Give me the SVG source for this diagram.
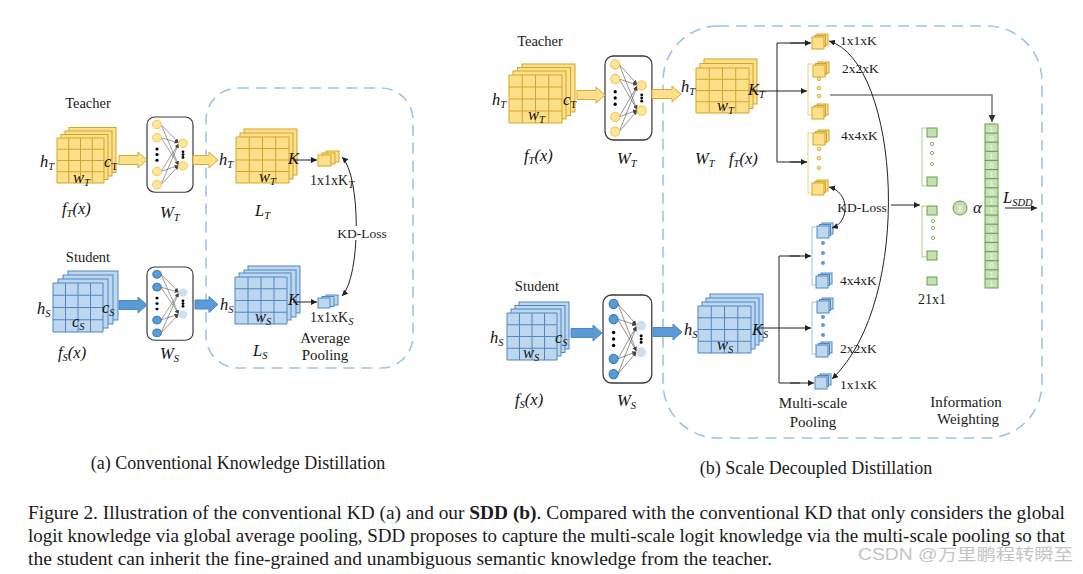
<svg xmlns="http://www.w3.org/2000/svg" xmlns:xlink="http://www.w3.org/1999/xlink" width="1083" height="574" viewBox="0 0 1083 574">
<style>
.t{font-family:"Liberation Serif","Times New Roman",serif;fill:#1a1a1a}
.m{font-family:"Liberation Serif","Times New Roman",serif;font-style:italic;fill:#111;font-size:16.5px}
.s{font-size:10.5px}
.yl{fill:#ffe08a;stroke:#cfa52a;stroke-width:1}
.bl{fill:#bdd7ee;stroke:#4f86c4;stroke-width:1}
.gr{fill:#c5e0b4;stroke:#6a9e45;stroke-width:1}
.dash{fill:none;stroke:#9dc3e6;stroke-width:1.6;stroke-dasharray:11 7}
.ln{fill:none;stroke:#222;stroke-width:1}
.nn{fill:#fff;stroke:#3a3a3a;stroke-width:1.2}
.nl{stroke:#555;stroke-width:0.6}
.ya{fill:#ffe08a;stroke:#d4a93a;stroke-width:1}
.ba{fill:#5b9bd5;stroke:#4a86c8;stroke-width:1}
.yb{fill:none;stroke:#f0cf6e;stroke-width:1}
.bb{fill:none;stroke:#9dc3e6;stroke-width:1}
.gb{fill:none;stroke:#a9d18e;stroke-width:1}
.dig{font-family:"Liberation Sans",sans-serif;font-size:8px;fill:#f4faf0;text-anchor:middle}
</style>
<defs>
<marker id="ah" viewBox="0 0 10 10" refX="10" refY="5" markerWidth="6" markerHeight="6" markerUnits="userSpaceOnUse" orient="auto-start-reverse"><path d="M0,0 L10,5 L0,10 z" fill="#222"/></marker>
<marker id="ahs" viewBox="0 0 10 10" refX="10" refY="5" markerWidth="4" markerHeight="4" markerUnits="userSpaceOnUse" orient="auto"><path d="M0,0 L10,5 L0,10 z" fill="#444"/></marker>
<marker id="ahg" viewBox="0 0 10 10" refX="10" refY="5" markerWidth="7" markerHeight="7" markerUnits="userSpaceOnUse" orient="auto"><path d="M0,0 L10,5 L0,10 z" fill="#333"/></marker>
<symbol id="yg" viewBox="0 0 4 4" preserveAspectRatio="none" overflow="visible"><rect width="4" height="4" fill="#ffe08a" stroke="#cfa52a" vector-effect="non-scaling-stroke"/><path d="M1 0V4M2 0V4M3 0V4M0 1H4M0 2H4M0 3H4" fill="none" stroke="#cfa52a" vector-effect="non-scaling-stroke"/></symbol>
<symbol id="bg" viewBox="0 0 4 4" preserveAspectRatio="none" overflow="visible"><rect width="4" height="4" fill="#bdd7ee" stroke="#4f86c4" vector-effect="non-scaling-stroke"/><path d="M1 0V4M2 0V4M3 0V4M0 1H4M0 2H4M0 3H4" fill="none" stroke="#4f86c4" vector-effect="non-scaling-stroke"/></symbol>
<g id="yc" class="yl"><rect x="5" y="0" width="11" height="11"/><rect x="2.5" y="1.5" width="11" height="11"/><rect x="0" y="3" width="12" height="12"/></g>
<g id="bc" class="bl"><rect x="5" y="0" width="11" height="11"/><rect x="2.5" y="1.5" width="11" height="11"/><rect x="0" y="3" width="12" height="12"/></g>
<g id="nnT">
<rect x="0" y="0" width="46" height="80" rx="8" class="nn"/>
<g class="nl" marker-end="url(#ahs)">
<line x1="14" y1="8" x2="31.5" y2="27"/><line x1="14" y1="8" x2="31.5" y2="51"/>
<line x1="14" y1="22" x2="31.5" y2="27.5"/><line x1="14" y1="22" x2="31.5" y2="51"/>
<line x1="14" y1="58" x2="31.5" y2="28.5"/><line x1="14" y1="58" x2="31.5" y2="51.5"/>
<line x1="14" y1="72" x2="31.5" y2="29"/><line x1="14" y1="72" x2="31.5" y2="52"/>
</g>
<g fill="#ffe699" stroke="#f2c55c"><circle cx="10" cy="8" r="4.5"/><circle cx="10" cy="22" r="4.5"/><circle cx="10" cy="58" r="4.5"/><circle cx="10" cy="72" r="4.5"/><circle cx="36" cy="28" r="4.5"/><circle cx="36" cy="52" r="4.5"/></g>
<g fill="#000"><circle cx="10" cy="34" r="1.6"/><circle cx="10" cy="40" r="1.6"/><circle cx="10" cy="46" r="1.6"/><circle cx="36" cy="37" r="1.4"/><circle cx="36" cy="40" r="1.4"/><circle cx="36" cy="43" r="1.4"/></g>
</g>
<g id="nnS">
<rect x="0" y="0" width="46" height="80" rx="8" class="nn"/>
<g class="nl" marker-end="url(#ahs)">
<line x1="14" y1="8" x2="31.5" y2="27"/><line x1="14" y1="8" x2="31.5" y2="51"/>
<line x1="14" y1="22" x2="31.5" y2="27.5"/><line x1="14" y1="22" x2="31.5" y2="51"/>
<line x1="14" y1="58" x2="31.5" y2="28.5"/><line x1="14" y1="58" x2="31.5" y2="51.5"/>
<line x1="14" y1="72" x2="31.5" y2="29"/><line x1="14" y1="72" x2="31.5" y2="52"/>
</g>
<g fill="#5b9bd5" stroke="#2e75b6"><circle cx="10" cy="8" r="4.2"/><circle cx="10" cy="22" r="4.2"/><circle cx="10" cy="58" r="4.2"/><circle cx="10" cy="72" r="4.2"/></g>
<g fill="#cde0f2"><circle cx="36" cy="28" r="4.5"/><circle cx="36" cy="52" r="4.5"/></g>
<g fill="#000"><circle cx="10" cy="34" r="1.6"/><circle cx="10" cy="40" r="1.6"/><circle cx="10" cy="46" r="1.6"/><circle cx="36" cy="37" r="1.4"/><circle cx="36" cy="40" r="1.4"/><circle cx="36" cy="43" r="1.4"/></g>
</g>
</defs>
<rect width="1083" height="574" fill="#fff"/>

<!-- dashed regions -->
<rect class="dash" x="206" y="88" width="207" height="280" rx="32"/>
<rect class="dash" x="663" y="26" width="379" height="412" rx="55"/>

<!-- ===== (a) ===== -->
<g id="a-teacher-feature">
<text class="t" x="88" y="108" font-size="14.5" text-anchor="middle">Teacher</text>
<rect class="yl" x="69" y="127.5" width="47" height="45"/><rect class="yl" x="65" y="131" width="47" height="45"/><rect class="yl" x="61" y="134.5" width="47" height="45"/>
<use href="#yg" x="57" y="138" width="47" height="45"/>
<text class="m" x="40" y="167">h<tspan class="s" dy="3">T</tspan></text>
<text class="m" x="104" y="167">c<tspan class="s" dy="3" font-style="normal">T</tspan></text>
<text class="m" x="73" y="183">w<tspan class="s" dy="3">T</tspan></text>
<text class="m" x="62" y="214">f<tspan class="s" dy="3">T</tspan><tspan dy="-3">(x)</tspan></text>
</g>
<g id="a-teacher-net">
<use href="#nnT" transform="translate(147,117) scale(1,0.94)"/>
<text class="m" x="160" y="218">W<tspan class="s" dy="3">T</tspan></text>
</g>
<g id="a-teacher-logit">
<rect class="yl" x="244" y="129" width="53" height="46"/><rect class="yl" x="240" y="133" width="53" height="46"/>
<use href="#yg" x="236" y="137" width="53" height="46"/>
<text class="m" x="219" y="165">h<tspan class="s" dy="3">T</tspan></text>
<text class="m" x="288" y="164">K</text>
<text class="m" x="259" y="182">w<tspan class="s" dy="3">T</tspan></text>
<text class="m" x="255" y="216">L<tspan class="s" dy="3">T</tspan></text>
</g>
<g id="a-teacher-pool">
<g class="yl"><rect x="326" y="151" width="13" height="11"/><rect x="322" y="153" width="13" height="11"/><rect x="318" y="155" width="13" height="11"/></g>
<text class="t" x="310" y="185" font-size="14">1x1xK<tspan class="s" dy="3" font-style="italic">T</tspan></text>
</g>
<g id="a-student-feature">
<text class="t" x="88" y="262" font-size="14.5" text-anchor="middle">Student</text>
<rect class="bl" x="68" y="271" width="50" height="49"/><rect class="bl" x="63" y="275" width="50" height="49"/><rect class="bl" x="58" y="279" width="50" height="49"/>
<use href="#bg" x="53" y="283" width="50" height="49"/>
<text class="m" x="37" y="314">h<tspan class="s" dy="3">S</tspan></text>
<text class="m" x="102" y="313">c<tspan class="s" dy="3">S</tspan></text>
<text class="m" x="72" y="327">c<tspan class="s" dy="3">S</tspan></text>
<text class="m" x="58" y="358">f<tspan class="s" dy="3">S</tspan><tspan dy="-3">(x)</tspan></text>
</g>
<g id="a-student-net">
<use href="#nnS" transform="translate(147,267) scale(1,0.915)"/>
<text class="m" x="160" y="359">W<tspan class="s" dy="3">S</tspan></text>
</g>
<g id="a-student-logit">
<rect class="bl" x="248" y="266" width="52" height="47"/><rect class="bl" x="244" y="270" width="52" height="47"/><rect class="bl" x="239" y="273" width="52" height="47"/>
<use href="#bg" x="235" y="277" width="52" height="47"/>
<text class="m" x="220" y="310">h<tspan class="s" dy="3">S</tspan></text>
<text class="m" x="288" y="305">K</text>
<text class="m" x="255" y="322">w<tspan class="s" dy="3">S</tspan></text>
<text class="m" x="253" y="356">L<tspan class="s" dy="3">S</tspan></text>
</g>
<g id="a-student-pool">
<g class="bl"><rect x="326" y="295" width="12" height="10"/><rect x="322" y="296.5" width="12" height="10"/><rect x="318" y="298" width="12" height="10"/></g>
<text class="t" x="310" y="322" font-size="14">1x1xK<tspan class="s" dy="3" font-style="italic">S</tspan></text>
<text class="t" x="325" y="343" font-size="15" text-anchor="middle">Average</text>
<text class="t" x="325" y="360" font-size="15" text-anchor="middle">Pooling</text>
</g>

<!-- ===== (b) ===== -->
<g id="b-teacher-feature">
<text class="t" x="540" y="46" font-size="14.5" text-anchor="middle">Teacher</text>
<rect class="yl" x="522" y="64" width="53" height="48"/><rect class="yl" x="517.5" y="67.5" width="53" height="48"/><rect class="yl" x="513" y="71" width="53" height="48"/>
<use href="#yg" x="509" y="75" width="53" height="48"/>
<text class="m" x="492" y="105">h<tspan class="s" dy="3">T</tspan></text>
<text class="m" x="563" y="105">c<tspan class="s" dy="3" font-style="normal">T</tspan></text>
<text class="m" x="528" y="120">w<tspan class="s" dy="3">T</tspan></text>
<text class="m" x="524" y="161">f<tspan class="s" dy="3">T</tspan><tspan dy="-3">(x)</tspan></text>
</g>
<g id="b-teacher-net">
<use href="#nnT" transform="translate(605,56) scale(1.02,1.05)"/>
<text class="m" x="617" y="164">W<tspan class="s" dy="3">T</tspan></text>
</g>
<g id="b-teacher-logit">
<rect class="yl" x="704" y="59" width="53" height="45"/><rect class="yl" x="700" y="63.5" width="53" height="45"/>
<use href="#yg" x="696" y="68" width="53" height="45"/>
<text class="m" x="681" y="92">h<tspan class="s" dy="3">T</tspan></text>
<text class="m" x="748" y="95">K<tspan class="s" dy="3">T</tspan></text>
<text class="m" x="717" y="111">w<tspan class="s" dy="3">T</tspan></text>
<text class="m" x="695" y="164">W<tspan class="s" dy="3">T</tspan></text>
<text class="m" x="729" y="164">f<tspan class="s" dy="3">T</tspan><tspan dy="-3">(x)</tspan></text>
</g>
<g id="b-teacher-pool">
<use href="#yc" x="812" y="34"/>
<text class="t" x="840" y="45" font-size="13.5">1x1xK</text>
<path class="yb" d="M812 64H808V115H812"/>
<use href="#yc" x="813" y="62"/><use href="#yc" x="812" y="104"/>
<g fill="#ffe08a" stroke="#cfa52a" stroke-width="0.8"><circle cx="819" cy="79" r="1.8"/><circle cx="819" cy="88" r="1.8"/><circle cx="819" cy="96" r="1.8"/></g>
<text class="t" x="842" y="73" font-size="13.5">2x2xK</text>
<path class="yb" d="M812 133H808V193H812"/>
<use href="#yc" x="813" y="130"/><use href="#yc" x="812" y="180"/>
<g fill="#ffe08a" stroke="#cfa52a" stroke-width="0.8"><circle cx="819" cy="149" r="1.8"/><circle cx="819" cy="158" r="1.8"/><circle cx="819" cy="168" r="1.8"/></g>
<text class="t" x="841" y="140" font-size="13.5">4x4xK</text>
</g>
<g id="b-student-feature">
<text class="t" x="537" y="291" font-size="14.5" text-anchor="middle">Student</text>
<rect class="bl" x="519" y="302" width="50" height="47"/><rect class="bl" x="515" y="305.5" width="50" height="47"/><rect class="bl" x="511" y="309" width="50" height="47"/>
<use href="#bg" x="507" y="313" width="50" height="47"/>
<text class="m" x="490" y="343">h<tspan class="s" dy="3">S</tspan></text>
<text class="m" x="555" y="343">c<tspan class="s" dy="3">S</tspan></text>
<text class="m" x="523" y="358">w<tspan class="s" dy="3">S</tspan></text>
<text class="m" x="515" y="405">f<tspan class="s" dy="3">S</tspan><tspan dy="-3">(x)</tspan></text>
</g>
<g id="b-student-net">
<use href="#nnS" transform="translate(603,295) scale(1.06,1.1)"/>
<text class="m" x="617" y="406">W<tspan class="s" dy="3">S</tspan></text>
</g>
<g id="b-student-logit">
<rect class="bl" x="710" y="294" width="53" height="47"/><rect class="bl" x="706" y="298" width="53" height="47"/><rect class="bl" x="702" y="302" width="53" height="47"/>
<use href="#bg" x="698" y="306" width="53" height="47"/>
<text class="m" x="684" y="335">h<tspan class="s" dy="3">S</tspan></text>
<text class="m" x="752" y="335">K<tspan class="s" dy="3">S</tspan></text>
<text class="m" x="717" y="350">w<tspan class="s" dy="3">S</tspan></text>
</g>
<g id="b-student-pool">
<path class="bb" d="M816 227H812V285H816"/>
<use href="#bc" x="817" y="223"/><use href="#bc" x="816" y="273"/>
<g fill="#5b9bd5"><circle cx="823" cy="243" r="2"/><circle cx="823" cy="253" r="2"/><circle cx="823" cy="263" r="2"/></g>
<text class="t" x="840" y="285" font-size="13.5">4x4xK</text>
<path class="bb" d="M816 302H812V354H816"/>
<use href="#bc" x="817" y="298"/><use href="#bc" x="816" y="342"/>
<g fill="#5b9bd5"><circle cx="823" cy="317" r="2"/><circle cx="823" cy="325" r="2"/><circle cx="823" cy="335" r="2"/></g>
<text class="t" x="840" y="353" font-size="13.5">2x2xK</text>
<use href="#bc" x="815" y="374"/>
<text class="t" x="840" y="389" font-size="13.5">1x1xK</text>
<text class="t" x="813" y="408" font-size="15" text-anchor="middle">Multi-scale</text>
<text class="t" x="813" y="427" font-size="15" text-anchor="middle">Pooling</text>
</g>
<g id="b-weighting">
<path class="gb" d="M926 128H922V186H926"/>
<rect class="gr" x="927" y="128" width="10" height="9"/><rect class="gr" x="927" y="177" width="10" height="9"/>
<g fill="none" stroke="#70ad47" stroke-width="0.9"><circle cx="932" cy="144" r="1.6"/><circle cx="932" cy="153" r="1.6"/><circle cx="932" cy="164" r="1.6"/></g>
<path class="gb" d="M926 206H922V257H926"/>
<rect class="gr" x="927" y="206" width="10" height="9"/><rect class="gr" x="927" y="251" width="10" height="9"/>
<g fill="none" stroke="#70ad47" stroke-width="0.9"><circle cx="933" cy="221" r="1.6"/><circle cx="933" cy="228" r="1.6"/><circle cx="933" cy="238" r="1.6"/></g>
<rect class="gr" x="927" y="277" width="10" height="8"/>
<text class="t" x="932" y="304" font-size="14" text-anchor="middle">21x1</text>
<circle class="gr" cx="960" cy="208" r="7"/>
<text x="960" y="212" font-family="Liberation Sans,sans-serif" font-size="10" fill="#fff" text-anchor="middle">x</text>
<text class="m" x="973" y="213" font-size="14">α</text>
<rect class="gr" x="985" y="124" width="13" height="164" stroke="#548235"/>
<path fill="none" stroke="#548235" stroke-width="0.8" d="M985 133.1H998M985 142.2H998M985 151.3H998M985 160.4H998M985 169.6H998M985 178.7H998M985 187.8H998M985 196.9H998M985 206H998M985 215.1H998M985 224.2H998M985 233.3H998M985 242.4H998M985 251.6H998M985 260.7H998M985 269.8H998M985 278.9H998"/>
<g class="dig">
<text x="991.5" y="131.5">1</text><text x="991.5" y="140.6">0</text><text x="991.5" y="149.7">1</text><text x="991.5" y="158.8">1</text><text x="991.5" y="167.9">0</text><text x="991.5" y="177">1</text><text x="991.5" y="186.1">1</text><text x="991.5" y="195.2">0</text><text x="991.5" y="204.3">1</text><text x="991.5" y="213.4">1</text><text x="991.5" y="222.5">0</text><text x="991.5" y="231.6">1</text><text x="991.5" y="240.7">1</text><text x="991.5" y="249.9">0</text><text x="991.5" y="259">1</text><text x="991.5" y="268.1">0</text><text x="991.5" y="277.2">1</text><text x="991.5" y="286.3">1</text>
</g>
<text class="m" x="1003" y="203">L<tspan class="s" dy="3">SDD</tspan></text>
<text class="t" x="966" y="407" font-size="15" text-anchor="middle">Information</text>
<text class="t" x="968" y="424" font-size="15" text-anchor="middle">Weighting</text>
</g>

<!-- ===== connectors ===== -->
<g id="connectors">
<path class="ya" d="M119 155.5H138V152L147 160L138 168V164.5H119Z"/>
<path class="ya" d="M193 155.5H209V152L218 160L209 168V164.5H193Z"/>
<path class="ba" d="M119 300.5H138V297L147 305L138 313V309.5H119Z"/>
<path class="ba" d="M195 300H209V296.5L218 304.5L209 312.5V309H195Z"/>
<path class="ya" d="M577 90.5H596V87L605 95L596 103V99.5H577Z"/>
<path class="ya" d="M652 89.5H672V86L681 94L672 102V98.5H652Z"/>
<path class="ba" d="M571 328.5H593V325L602 333L593 341V337.5H571Z"/>
<path class="ba" d="M653 327.5H673V324L682 332L673 340V336.5H653Z"/>
<line class="ln" x1="293" y1="160" x2="317" y2="160" marker-end="url(#ah)"/>
<line class="ln" x1="293" y1="302" x2="317" y2="302" marker-end="url(#ah)"/>
<path class="ln" d="M342 157C361 176 361 276 342 296" marker-start="url(#ah)" marker-end="url(#ah)"/>
<rect x="338" y="226" width="49" height="14" fill="#fff"/>
<text class="t" x="362" y="238" font-size="13.5" text-anchor="middle">KD-Loss</text>
<line class="ln" x1="752" y1="91" x2="807" y2="91" marker-end="url(#ah)"/>
<path class="ln" d="M810 43H777V162H807" />
<line class="ln" x1="790" y1="43" x2="811" y2="43" marker-end="url(#ah)"/>
<line class="ln" x1="790" y1="162" x2="807" y2="162" marker-end="url(#ah)"/>
<line class="ln" x1="757" y1="328" x2="811" y2="328" marker-end="url(#ah)"/>
<path class="ln" d="M800 256H779V383H800"/>
<line class="ln" x1="790" y1="256" x2="811" y2="256" marker-end="url(#ah)"/>
<line class="ln" x1="790" y1="383" x2="814" y2="383" marker-end="url(#ah)"/>
<path fill="none" stroke="#808080" stroke-width="1.6" d="M830 95H992V122" marker-end="url(#ahg)"/>
<path class="ln" d="M829 41C900 62 915 300 832 379" marker-start="url(#ah)" marker-end="url(#ah)"/>
<path class="ln" d="M829 187C850 192 850 222 832 228" marker-start="url(#ah)" marker-end="url(#ah)"/>
<text class="t" x="862" y="212" font-size="13.5" text-anchor="middle">KD-Loss</text>
<line class="ln" x1="891" y1="205" x2="920" y2="205" marker-end="url(#ah)"/>
<line class="ln" x1="1005" y1="208" x2="1037" y2="208" marker-end="url(#ah)"/>
</g>

<!-- captions -->
<text class="t" x="238" y="469" font-size="18" text-anchor="middle">(a) Conventional Knowledge Distillation</text>
<text class="t" x="816" y="474" font-size="18" text-anchor="middle">(b) Scale Decoupled Distillation</text>
<g class="t" font-size="19">
<text x="28" y="519" textLength="1037" lengthAdjust="spacingAndGlyphs">Figure 2. Illustration of the conventional KD (a) and our <tspan font-weight="bold">SDD (b)</tspan>. Compared with the conventional KD that only considers the global</text>
<text x="28" y="542" textLength="1037" lengthAdjust="spacingAndGlyphs">logit knowledge via global average pooling, SDD proposes to capture the multi-scale logit knowledge via the multi-scale pooling so that</text>
<text x="28" y="565" textLength="744" lengthAdjust="spacingAndGlyphs">the student can inherit the fine-grained and unambiguous semantic knowledge from the teacher.</text>
</g>
<text x="858" y="560" font-family="Liberation Sans,'Noto Sans CJK SC',sans-serif" font-size="16" fill="#c4c4c4" textLength="215" lengthAdjust="spacingAndGlyphs">CSDN @万里鹏程转瞬至</text>
</svg>
